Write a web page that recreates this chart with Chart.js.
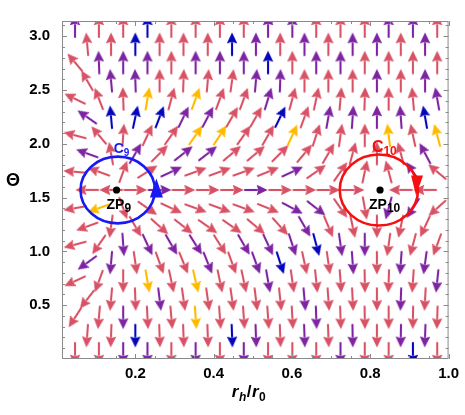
<!DOCTYPE html>
<html>
<head>
<meta charset="utf-8">
<script src="https://cdn.jsdelivr.net/npm/chart.js@4.4.1/dist/chart.umd.min.js"></script>
<style>
html, body { margin: 0; padding: 0; background: #fff; }
</style>
</head>
<body>
<canvas id="myChart" width="465" height="415"></canvas>
<script>
// sample grid: staggered rows, even rows use colsA, odd rows colsB
var colsA = [0.046, 0.107, 0.169, 0.231, 0.292, 0.354, 0.416, 0.477, 0.539, 0.601, 0.662, 0.724, 0.786, 0.847, 0.909, 0.971];
var colsB = [0.077, 0.138, 0.200, 0.262, 0.323, 0.385, 0.447, 0.508, 0.570, 0.632, 0.693, 0.755, 0.817, 0.878, 0.940];
var thetaRows = [0.047, 0.216, 0.386, 0.555, 0.724, 0.894, 1.063, 1.232, 1.402, 1.571, 1.740, 1.910, 2.079, 2.248, 2.418, 2.587, 2.756, 2.926, 3.095];

// arrow direction in degrees (counter-clockwise from +r), bottom row first
var rowAngles = [
    [270, 270, 270, 270, 270, 270, 270, 270, 270, 270, 270, 270, 270, 270, 270, 270],
    [266, 268, 270, 272, 272, 272, 272, 272, 272, 272, 272, 271, 270, 269, 268],
    [237, 265, 270, 273, 275, 274, 274, 274, 274, 273, 272, 272, 271, 270, 269, 268],
    [232, 265, 272, 277, 278, 278, 278, 277, 276, 275, 274, 273, 270, 268, 267],
    [205, 250, 270, 280, 282, 283, 282, 282, 280, 278, 276, 274, 271, 268, 266, 264],
    [216, 265, 278, 290, 292, 292, 290, 290, 288, 282, 278, 274, 270, 266, 262],
    [195, 235, 274, 295, 300, 302, 302, 300, 295, 288, 285, 278, 270, 262, 255, 250],
    [200, 262, 300, 318, 322, 325, 325, 320, 312, 300, 293, 282, 270, 258, 245],
    [190, 200, 290, 325, 335, 340, 340, 340, 338, 332, 322, 305, 280, 255, 237, 222],
    [180, 180, 0, 0, 0, 0, 0, 0, 0, 0, 0, 0, null, 180, 180],
    [175, 160, 70, 32, 25, 20, 20, 20, 22, 25, 35, 55, 78, 105, 125, 140],
    [160, 100, 60, 45, 38, 38, 40, 40, 45, 50, 60, 75, 90, 105, 118],
    [165, 130, 86, 65, 55, 55, 57, 55, 60, 65, 72, 82, 90, 97, 102, 105],
    [145, 95, 78, 69, 64, 62, 60, 60, 64, 70, 80, 86, 90, 94, 100],
    [154, 111, 92, 80, 75, 70, 70, 70, 73, 75, 78, 85, 88, 90, 95, 100],
    [120, 95, 92, 90, 88, 85, 82, 85, 88, 90, 90, 90, 90, 90, 90],
    [130, 92, 90, 90, 90, 90, 90, 90, 90, 90, 90, 90, 90, 90, 90, 90],
    [95, 90, 90, 90, 90, 90, 90, 90, 90, 90, 90, 90, 90, 90, 90],
    [90, 90, 90, 90, 90, 90, 90, 90, 90, 90, 90, 90, 90, 90, 90, 90]
];

// colour class of every arrow (R, P, B, Y), bottom row first
var rowColors = [
    "RRPPRPRPRRRPRRBR",
    "RRBRRRBPRPRPRPP",
    "RRPRRYRRRRPRRRRR",
    "RRRPRRRRRPRRRPR",
    "RRRYRYRRPRRRRRRP",
    "PPRRRPRPBRRPRPP",
    "RRPPPPRPPPBPPRRR",
    "RRRRRRRRRPRRRRR",
    "RYRRRRRRRPPRRPPR",
    "RRRPRRRPRRRRRRR",
    "RRRRPRRRRPRRRRPR",
    "PRPRPPRRRRRRRRP",
    "RRRRRYYRRYRRRYRY",
    "PBBBPPRRBRPPPPB",
    "RRRYRYRRPRRRRRRP",
    "RPPRRRRPPRRRPRP",
    "RPPPRPPPBRPPRRRR",
    "RRBRRRBPRPRPPRP",
    "PRRBRRRRPPRRRPPR"
];

// zero points and the contours around them
var zpR = [0.152, 0.825];
var zpTheta = [1.5708, 1.5708];
var zpNames = ["9", "10"];
var contourR = [0.155, 0.822];
var contourHalfR = [0.095, 0.1];
var contourHalfTheta = [0.31, 0.33];

var xTicks = [0.2, 0.4, 0.6, 0.8, 1.0];
var yTicks = [0.5, 1.0, 1.5, 2.0, 2.5, 3.0];

var palette = { R: 'rgb(216, 82, 102)', P: 'rgb(125, 36, 162)', B: 'rgb(5, 5, 190)', Y: 'rgb(255, 186, 0)' };
var FONT = "'Liberation Sans', Arial, sans-serif";

function makeArrow(color) {
    var c = document.createElement('canvas');
    c.width = 26; c.height = 14;
    var g = c.getContext('2d');
    var L = 23.5, hl = 11, hw = 5.2, y = 7;
    var x0 = 13 - L / 2, x1 = 13 + L / 2;
    g.strokeStyle = color;
    g.lineWidth = 2.1;
    g.beginPath(); g.moveTo(x0, y); g.lineTo(x1 - hl + 1, y); g.stroke();
    g.fillStyle = color;
    g.beginPath(); g.moveTo(x1, y); g.lineTo(x1 - hl, y - hw); g.lineTo(x1 - hl + 1.5, y); g.lineTo(x1 - hl, y + hw); g.closePath(); g.fill();
    return c;
}
var arrowImgs = {};
Object.keys(palette).forEach(function (k) { arrowImgs[k] = makeArrow(palette[k]); });

var arrowPoints = [];
thetaRows.forEach(function (t, k) {
    var cols = (k % 2 === 0) ? colsA : colsB;
    cols.forEach(function (r, j) {
        var a = rowAngles[k][j];
        if (a === null) return;
        arrowPoints.push({ x: r, y: t, a: a, c: rowColors[k].charAt(j) });
    });
});

var zpPoints = zpR.map(function (r, i) { return { x: r, y: zpTheta[i] }; });

function subText(ctx, main, sub, x, y, mainSize, subSize, drop, color) {
    ctx.fillStyle = color;
    ctx.textAlign = 'left';
    ctx.textBaseline = 'alphabetic';
    ctx.font = 'bold ' + mainSize + 'px ' + FONT;
    ctx.fillText(main, x, y);
    var w = ctx.measureText(main).width;
    ctx.font = 'bold ' + subSize + 'px ' + FONT;
    ctx.fillText(sub, x + w, y + drop);
}

var overlayPlugin = {
    id: 'overlay',
    afterDatasetsDraw: function (chart) {
        var ctx = chart.ctx, a = chart.chartArea;
        var xs = chart.scales.x, ys = chart.scales.y;
        var colors = ['rgb(25, 25, 245)', 'rgb(245, 15, 15)'];
        ctx.save();
        contourR.forEach(function (r, i) {
            var cx = xs.getPixelForValue(r), cy = ys.getPixelForValue(Math.PI / 2);
            var rx = xs.getPixelForValue(r + contourHalfR[i]) - cx;
            var ry = cy - ys.getPixelForValue(Math.PI / 2 + contourHalfTheta[i]);
            ctx.strokeStyle = colors[i];
            ctx.lineWidth = 2.6;
            ctx.beginPath();
            ctx.ellipse(cx, cy, rx, ry, 0, 0, Math.PI * 2);
            ctx.stroke();
            ctx.fillStyle = colors[i];
            ctx.beginPath();
            var ex = cx + rx;
            if (i === 0) {
                ctx.moveTo(ex + 1.5, cy - 11.5);
                ctx.lineTo(ex + 8, cy + 7.5);
                ctx.lineTo(ex - 5, cy + 7.5);
            } else {
                ctx.moveTo(ex - 2, cy + 5.5);
                ctx.lineTo(ex + 5, cy - 14.5);
                ctx.lineTo(ex - 7, cy - 14.5);
            }
            ctx.closePath();
            ctx.fill();
        });
        // contour and zero point labels
        var c9x = xs.getPixelForValue(contourR[0]), c10x = xs.getPixelForValue(contourR[1]);
        var cy = ys.getPixelForValue(Math.PI / 2);
        subText(ctx, 'C', zpNames[0], c9x - 4, cy - 37, 14, 10, 3, colors[0]);
        subText(ctx, 'C', zpNames[1], c10x - 7, cy - 38, 16, 12, 3, colors[1]);
        subText(ctx, 'ZP', zpNames[0], xs.getPixelForValue(zpR[0]) - 10, cy + 18.5, 14, 12, 3, '#000');
        subText(ctx, 'ZP', zpNames[1], xs.getPixelForValue(zpR[1]) - 11, cy + 18.5, 14, 12, 3, '#000');

        // frame with inward ticks
        ctx.strokeStyle = '#8a8a8a';
        ctx.lineWidth = 1;
        ctx.strokeRect(a.left + 0.5, a.top + 0.5, a.right - a.left - 1, a.bottom - a.top - 1);
        ctx.beginPath();
        for (var i = 1; i <= 20; i++) {
            var v = i * 0.05;
            if (v < xs.min) continue;
            var px = Math.round(xs.getPixelForValue(v)) + 0.5;
            var len = (i % 4 === 0) ? 5 : 3;
            ctx.moveTo(px, a.bottom); ctx.lineTo(px, a.bottom - len);
            ctx.moveTo(px, a.top); ctx.lineTo(px, a.top + len);
        }
        for (var n = 1; n <= 31; n++) {
            var tv = n * 0.1;
            var py = Math.round(ys.getPixelForValue(tv)) + 0.5;
            var tl = (n % 5 === 0) ? 5 : 3;
            ctx.moveTo(a.left, py); ctx.lineTo(a.left + tl, py);
            ctx.moveTo(a.right, py); ctx.lineTo(a.right - tl, py);
        }
        ctx.stroke();

        // axis titles
        ctx.fillStyle = '#000';
        ctx.textBaseline = 'middle';
        ctx.textAlign = 'center';
        ctx.font = 'bold 18px ' + FONT;
        ctx.fillText('\u0398', 13, 181);

        var parts = [['r', 17, 0, 'italic bold'], ['h', 12, 4, 'italic bold'], ['/', 17, 0, 'bold'], ['r', 17, 0, 'italic bold'], ['0', 12, 4, 'bold']];
        ctx.textAlign = 'left';
        ctx.textBaseline = 'alphabetic';
        var total = 0;
        parts.forEach(function (p) { ctx.font = p[3] + ' ' + p[1] + 'px ' + FONT; p.w = ctx.measureText(p[0]).width + 0.5; total += p.w; });
        var tx = 249 - total / 2;
        parts.forEach(function (p) {
            ctx.font = p[3] + ' ' + p[1] + 'px ' + FONT;
            ctx.fillText(p[0], tx, 397 + p[2]);
            tx += p.w;
        });
        ctx.restore();
    }
};

var ctx = document.getElementById('myChart').getContext('2d');
var myChart = new Chart(ctx, {
    type: 'scatter',
    data: {
        datasets: [{
            label: 'zero points',
            data: zpPoints,
            pointRadius: 3.6,
            pointBackgroundColor: '#000',
            pointBorderWidth: 0,
            order: 0
        }, {
            label: 'field',
            data: arrowPoints,
            pointRadius: 12,
            pointBorderWidth: 0,
            pointStyle: function (c) { return arrowImgs[c.raw.c]; },
            rotation: function (c) { return -c.raw.a; },
            order: 1
        }]
    },
    options: {
        responsive: false,
        animation: false,
        devicePixelRatio: 1,
        layout: { padding: { left: 0, right: 13, top: 0, bottom: 0 } },
        plugins: { legend: { display: false }, tooltip: { enabled: false } },
        events: [],
        scales: {
            x: {
                type: 'linear', min: 0.0127, max: 1.0,
                grid: { display: false, drawTicks: false },
                border: { display: false },
                ticks: {
                    color: '#000', padding: 6, autoSkip: false, maxRotation: 0,
                    font: { family: FONT, size: 15, weight: 'bold' },
                    callback: function (v) { return Number(v).toFixed(1); }
                },
                afterBuildTicks: function (s) { s.ticks = xTicks.map(function (v) { return { value: v }; }); },
                afterFit: function (s) { s.height = 56; }
            },
            y: {
                type: 'linear', min: 0, max: Math.PI,
                grid: { display: false, drawTicks: false },
                border: { display: false },
                ticks: {
                    color: '#000', padding: 12, autoSkip: false,
                    font: { family: FONT, size: 15, weight: 'bold' },
                    callback: function (v) { return Number(v).toFixed(1); }
                },
                afterBuildTicks: function (s) { s.ticks = yTicks.map(function (v) { return { value: v }; }); },
                afterFit: function (s) { s.width = 62; }
            }
        }
    },
    plugins: [overlayPlugin]
});
</script>
</body>
</html>
